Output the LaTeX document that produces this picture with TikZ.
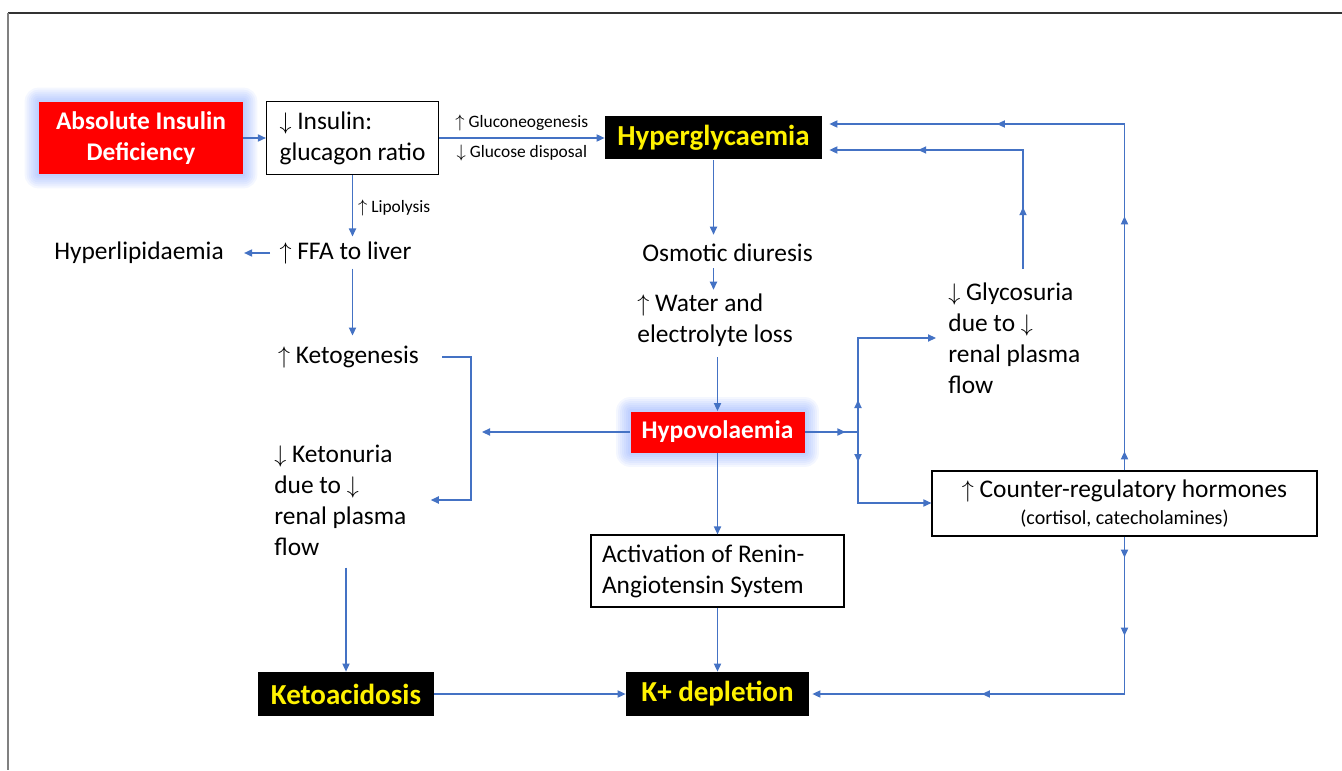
\documentclass[tikz,border=0pt]{standalone}
\usepackage{fontspec}
\setmainfont{Carlito}
\usetikzlibrary{arrows.meta,decorations.markings,backgrounds}

\definecolor{linkblue}{RGB}{68,114,196}
\definecolor{glowblue}{RGB}{100,140,255}
\newcommand\bodysize{\fontsize{12.7}{15.5}\selectfont}
\newcommand\smallsize{\fontsize{8.7}{10}\selectfont}

\tikzset{
  link/.style={draw=linkblue, color=linkblue, line width=0.6pt},
  arr/.style={-{Triangle[length=4pt,width=3.6pt]}},
  arrowat/.style={postaction={decorate,decoration={markings,
      mark=at position #1 with {\arrow{Triangle[length=4pt,width=3.6pt]}}}}},
  redbox/.style={fill=red, text=white, font=\bodysize\bfseries, align=center, inner sep=0pt},
  blackbox/.style={fill=black, text=yellow, font=\fontsize{14.5}{17}\selectfont\bfseries, inner sep=0pt},
  whitebox/.style={draw=black, line width=0.6pt, fill=white, text=black, font=\bodysize, align=flush left},
  txt/.style={font=\bodysize, align=flush left, inner sep=0pt},
  lbl/.style={font=\smallsize, text=black, inner sep=0pt},
}

\begin{document}
\begin{tikzpicture}[x=0.5pt,y=-0.5pt]
\useasboundingbox (0,0) rectangle (1342,770);
\draw[line width=1pt, black!80] (8,13) -- (1342,13);
\draw[line width=1.2pt, black!50] (8,13) -- (8,770);

% boxes
\node[redbox, minimum width=102pt, minimum height=36pt] (aid) at (141,138) {Absolute Insulin\\Deficiency};
\node[whitebox, minimum width=86pt, minimum height=36.5pt] (ratio) at (352.5,138) {$\downarrow$ Insulin:\\glucagon ratio};
\node[blackbox, minimum width=108.5pt, minimum height=21.5pt] (hyper) at (713.5,138) {Hyperglycaemia};
\node[redbox, minimum width=87pt, minimum height=20.5pt] (hypo) at (717.5,432) {Hypovolaemia};
\node[whitebox, text width=115.5pt, inner xsep=5.5pt, minimum height=36pt] (ras) at (717.5,571) {Activation of Renin-\\Angiotensin System};
\node[whitebox, align=center, minimum width=192.5pt, minimum height=32.5pt] (crh) at (1124.5,503.5) {$\uparrow$ Counter-regulatory hormones\\[-2pt]{\fontsize{10}{12}\selectfont(cortisol, catecholamines)}};
\node[blackbox, minimum width=88pt, minimum height=22pt] (kacid) at (346,694) {Ketoacidosis};
\node[blackbox, minimum width=91.5pt, minimum height=22pt] (kdep) at (717.5,694) {K+ depletion};

% plain text
\node[txt] (hlip) at (139,253) {Hyperlipidaemia};
\node[txt] (ffa) at (345.5,253) {$\uparrow$ FFA to liver};
\node[txt] (keto) at (348.5,357) {$\uparrow$ Ketogenesis};
\node[txt, anchor=west] (ktu) at (274,500) {$\downarrow$ Ketonuria\\due to $\downarrow$\\renal plasma\\flow};
\node[txt] (osm) at (727.5,253) {Osmotic diuresis};
\node[txt, anchor=west] (water) at (637,320.5) {$\uparrow$ Water and\\electrolyte loss};
\node[txt, anchor=west] (gly) at (948,338) {$\downarrow$ Glycosuria\\due to $\downarrow$\\renal plasma\\flow};

% glow
\begin{scope}[on background layer]
\foreach \n in {aid,hypo}
  \foreach \r in {7,6,...,1}
    \fill[glowblue, opacity=0.07, rounded corners=\r pt] ([xshift=-\r pt,yshift=\r pt]\n.north west) rectangle ([xshift=\r pt,yshift=-\r pt]\n.south east);
\end{scope}

% bends
\coordinate (kr1) at (471,357);
\coordinate (kr2) at (471,500);
\coordinate (hl) at (482,432);
\coordinate (jn) at (858,432);
\coordinate (jup) at (858,338);
\coordinate (jdn) at (858,503);
\coordinate (gt) at (1023,150);
\coordinate (rt) at (1124.5,124);
\coordinate (rb) at (1124.5,694);

% links
\draw[link,arr] (aid) -- (ratio);
\draw[link,arr] (ratio) -- node[lbl, above=3pt] {$\uparrow$ Gluconeogenesis} node[lbl, below=3pt] {$\downarrow$ Glucose disposal} (hyper);
\draw[link,arr, shorten >=2.5pt] (ratio.south) -- node[lbl, right=2.5pt] {$\uparrow$ Lipolysis} (ratio.south |- ffa.north);
\draw[link,arr, shorten <=4.5pt, shorten >=10pt] (ffa) -- (hlip);
\draw[link,arr, shorten <=2pt, shorten >=5pt] (ratio.south |- ffa.south) -- (ratio.south |- keto.north);
\draw[link,arr, shorten <=11.5pt, shorten >=12pt] (keto.east) -- (kr1) -- (kr2) -- (kr2 -| ktu.east);
\draw[link,arr] (hypo) -- (hl);
\draw[link,arr, shorten <=6pt] (kacid.north |- ktu.south) -- (kacid.north);
\draw[link,arr] (kacid) -- (kdep);

\draw[link,arr, shorten >=4.5pt] (hyper.south) -- (hyper.south |- osm.north);
\draw[link,arr, shorten <=3pt, shorten >=2pt] (hyper.south |- osm.south) -- (hyper.south |- water.north);
\draw[link,arr, shorten <=5pt] (hypo.north |- water.south) -- (hypo.north);
\draw[link,arr] (hypo) -- (ras);
\draw[link,arr] (ras) -- (kdep);

\draw[link, arrowat=20.25pt] (hypo) -- (jn);
\draw[link,arr, arrowat=16pt, shorten >=6pt] (jn) -- (jup) -- (jup -| gly.west);
\draw[link,arr, arrowat=15pt] (jn) -- (jdn) -- (jdn -| crh.west);
\draw[link,arr, arrowat=37.5pt, arrowat=118.5pt, shorten <=6.5pt, shorten >=3.5pt] (gt |- gly.north) -- (gt) -- (gt -| hyper.east);
\draw[link,arr, arrowat=9.5pt, arrowat=127pt, arrowat=237pt, shorten >=3.5pt] (crh.north) -- (rt) -- (rt -| hyper.east);
\draw[link,arr, arrowat=10.5pt, arrowat=49.5pt, arrowat=150pt, shorten >=1.5pt] (crh.south) -- (rb) -- (kdep.east);
\end{tikzpicture}
\end{document}
